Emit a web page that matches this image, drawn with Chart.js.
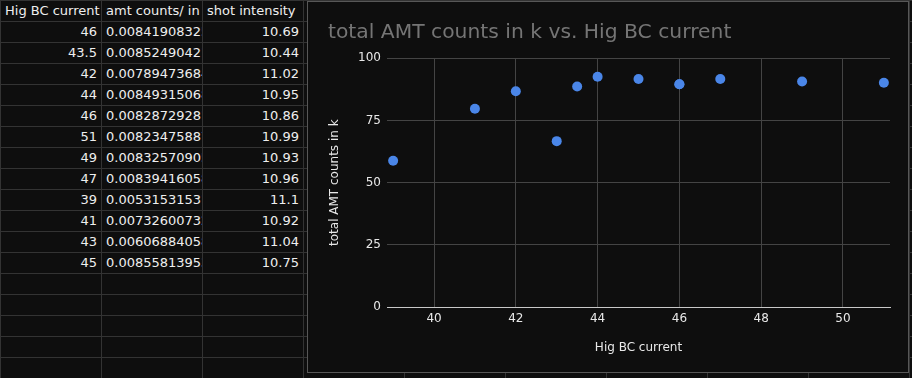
<!DOCTYPE html>
<html>
<head>
<meta charset="utf-8">
<script src="https://cdn.jsdelivr.net/npm/chart.js@4/dist/chart.umd.min.js"></script>
<style>
  body { margin: 0; background: #0e0e0e; width: 912px; height: 378px; overflow: hidden; font-family: "DejaVu Sans", sans-serif; }
  #sheet { position: absolute; left: 0; top: 0; width: 1010px; border-collapse: collapse; table-layout: fixed; }
  #sheet td { height: 20px; padding: 0 4px; border: 1px solid #333; color: #eee; font-size: 13px; line-height: 20px; white-space: nowrap; overflow: hidden; }
  #sheet td.num { text-align: right; }
  #box { position: absolute; left: 307px; top: 1px; width: 600px; height: 370px; border: 1px solid #575757; background: #0e0e0e; }
</style>
</head>
<body>
<table id="sheet"></table>
<div id="box"><canvas id="chart"></canvas></div>
<script>
// sheet columns
const headers = ["Hig BC current", "amt counts/ in", "shot intensity"];
const hbcCurrent = [46, 43.5, 42, 44, 46, 51, 49, 47, 39, 41, 43, 45];
const ratioText = ["0.00841908325", "0.00852490421", "0.00789473684", "0.00849315068", "0.00828729281", "0.00823475887",
  "0.00832570905", "0.00839416058", "0.00531531531", "0.00732600732", "0.00606884058", "0.00855813953"];
const intensity = ["10.69", "10.44", "11.02", "10.95", "10.86", "10.99", "10.93", "10.96", "11.1", "10.92", "11.04", "10.75"];

// total AMT counts in k
const totalCounts = [89.6, 88.7, 86.8, 92.6, 89.6, 90.2, 90.7, 91.7, 58.8, 79.7, 66.7, 91.7];

const buildSheet = () => {
  let table = document.getElementById("sheet");
  let nCols = 10, nRows = 18;
  let html = "<colgroup>";
  for (let c = 0; c < nCols; c++) html += `<col style="width:101px">`;
  html += "</colgroup>";
  for (let r = 0; r < nRows; r++) {
    html += "<tr>";
    for (let c = 0; c < nCols; c++) {
      let cell = "", cls = "";
      if (r === 0 && c < 3) cell = headers[c];
      else if (r > 0 && r <= hbcCurrent.length) {
        if (c === 0) { cell = hbcCurrent[r - 1]; cls = "num"; }
        if (c === 1) cell = ratioText[r - 1];
        if (c === 2) { cell = intensity[r - 1]; cls = "num"; }
      }
      html += `<td class="${cls}">${cell}</td>`;
    }
    html += "</tr>";
  }
  table.innerHTML = html;
};
buildSheet();

const font = "DejaVu Sans";
new Chart(document.getElementById("chart"), {
  type: "scatter",
  data: {
    datasets: [{
      label: "total AMT counts in k",
      data: hbcCurrent.map((x, i) => ({ x: x, y: totalCounts[i] })),
      backgroundColor: "#4a86e8",
      borderWidth: 0,
      pointRadius: 5,
      pointHoverRadius: 5,
    }],
  },
  options: {
    responsive: true,
    maintainAspectRatio: false,
    animation: false,
    devicePixelRatio: 1,
    layout: { padding: { left: 20, right: 18, top: 0, bottom: 0 } },
    plugins: {
      legend: { display: false },
      tooltip: { enabled: false },
      title: {
        display: true,
        text: "total AMT counts in k vs. Hig BC current",
        align: "start",
        color: "#757575",
        font: { family: font, size: 20.3, weight: "normal" },
        padding: { top: 19, bottom: 13 },
      },
    },
    scales: {
      x: {
        type: "linear",
        min: 38.85,
        max: 51.15,
        afterFit: (s) => { s.height = 65; },
        grid: { color: "#444", drawTicks: false },
        border: { display: true, color: "#c8c8c8" },
        ticks: { stepSize: 2, includeBounds: false, color: "#e8e8e8", padding: 5, font: { family: font, size: 12 } },
        title: { display: true, text: "Hig BC current", color: "#e8e8e8", font: { family: font, size: 12 }, padding: { top: 0, bottom: 17 } },
      },
      y: {
        min: 0,
        max: 100,
        afterFit: (s) => { s.width = 59; },
        grid: { color: "#444", drawTicks: false },
        border: { display: false },
        ticks: { stepSize: 25, color: "#e8e8e8", padding: 6, font: { family: font, size: 12 } },
        title: { display: true, text: "total AMT counts in k", color: "#e8e8e8", font: { family: font, size: 12 }, padding: { top: 0, bottom: 0 } },
      },
    },
  },
});
</script>
</body>
</html>
